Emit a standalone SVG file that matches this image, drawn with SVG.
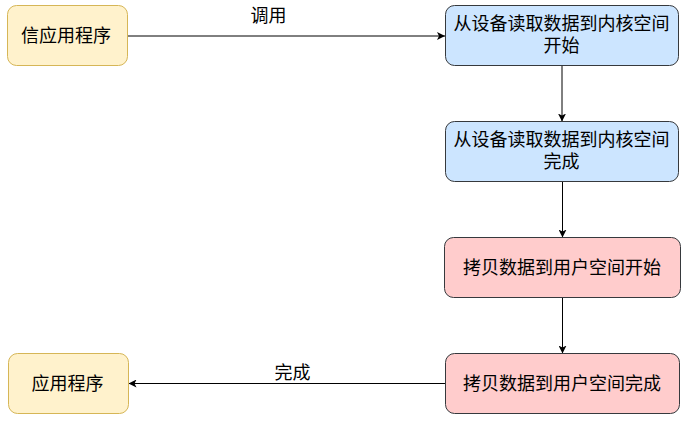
<svg xmlns="http://www.w3.org/2000/svg" width="693" height="425" viewBox="0 0 693 425">
<style>
text{font-family:"Noto Sans CJK SC","Noto Sans",sans-serif;font-size:18px;fill:#000;text-anchor:middle}
.app{fill:#fff2cc;stroke:#d6b656;stroke-width:1}
.kern{fill:#cce5ff;stroke:#36393d;stroke-width:1}
.user{fill:#ffcccc;stroke:#36393d;stroke-width:1}
.edge{fill:none;stroke:#000;stroke-width:1;marker-end:url(#arr)}
</style>
<defs>
<marker id="arr" viewBox="0 0 8 8" refX="8" refY="4" markerWidth="8" markerHeight="8" markerUnits="userSpaceOnUse" orient="auto">
<path d="M0,0 L8,4 L0,8 L2,4 z" fill="#000"/>
</marker>
</defs>
<rect width="693" height="425" fill="#fff"/>
<g id="connectors">
<path class="edge" d="M128,36 L445,36"/>
<path class="edge" d="M562,65.5 L562,121.5"/>
<path class="edge" d="M562.5,181.5 L562.5,237.5"/>
<path class="edge" d="M562.5,297.5 L562.5,353.5"/>
<path class="edge" d="M445.5,383.5 L128.5,383.5"/>
<text x="268.5" y="22">调用</text>
<text x="292.5" y="379">完成</text>
</g>
<g id="n1">
<rect class="app" x="7.5" y="5.5" width="120" height="60" rx="9"/>
<text x="66" y="41.5">信应用程序</text>
</g>
<g id="n2">
<rect class="kern" x="445.5" y="5.5" width="233" height="60" rx="9"/>
<text x="561.5" y="30">从设备读取数据到内核空间<tspan x="561.5" y="52.3">开始</tspan></text>
</g>
<g id="n3">
<rect class="kern" x="445.5" y="121.5" width="233" height="60" rx="9"/>
<text x="561.5" y="146">从设备读取数据到内核空间<tspan x="561.5" y="168.3">完成</tspan></text>
</g>
<g id="n4">
<rect class="user" x="444.5" y="237.5" width="236" height="60" rx="9"/>
<text x="562" y="273.5" textLength="198" lengthAdjust="spacing">拷贝数据到用户空间开始</text>
</g>
<g id="n5">
<rect class="user" x="445.5" y="353.5" width="234" height="60" rx="9"/>
<text x="562" y="389.5" textLength="198" lengthAdjust="spacing">拷贝数据到用户空间完成</text>
</g>
<g id="n6">
<rect class="app" x="8.5" y="353.5" width="120" height="60" rx="9"/>
<text x="67.5" y="389.5">应用程序</text>
</g>
</svg>
